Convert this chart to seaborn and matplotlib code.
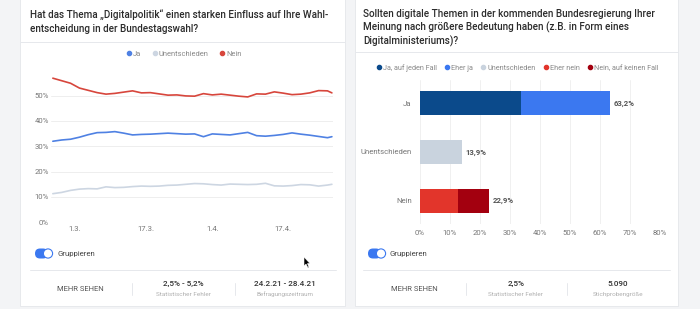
import matplotlib.pyplot as plt
import matplotlib.patches as mpatches
from matplotlib.lines import Line2D
import pandas as pd
import seaborn as sns

# left panel: share over time (in %)
dates = [
    "2021-02-24", "2021-02-26", "2021-02-28", "2021-03-02", "2021-03-04", "2021-03-06",
    "2021-03-08", "2021-03-10", "2021-03-12", "2021-03-14", "2021-03-16", "2021-03-18",
    "2021-03-20", "2021-03-22", "2021-03-24", "2021-03-26", "2021-03-28", "2021-03-30",
    "2021-04-01", "2021-04-03", "2021-04-05", "2021-04-07", "2021-04-09", "2021-04-11",
    "2021-04-13", "2021-04-15", "2021-04-17", "2021-04-19", "2021-04-21", "2021-04-23",
    "2021-04-25", "2021-04-27", "2021-04-28",
]
ja = [32.0, 32.5, 32.8, 33.6, 34.6, 35.4, 35.5, 35.8, 35.2, 34.5, 34.7, 34.8, 35.0,
      35.2, 35.0, 34.8, 34.9, 33.8, 34.9, 34.7, 34.5, 35.0, 35.5, 34.2, 34.0, 34.3,
      34.7, 35.3, 34.8, 34.4, 33.9, 33.4, 33.8]
unentschieden = [11.3, 11.8, 12.6, 13.1, 13.3, 13.2, 14.0, 13.7, 13.8, 14.1, 14.3, 14.2,
                 14.3, 14.6, 14.7, 15.0, 15.3, 15.2, 14.9, 14.7, 15.1, 15.0, 14.9, 15.0,
                 15.4, 14.4, 14.3, 14.5, 14.9, 14.8, 14.3, 14.7, 15.0]
nein = [56.9, 55.9, 54.9, 53.0, 52.1, 51.2, 50.6, 50.9, 51.4, 51.9, 51.1, 51.2, 50.7,
        50.2, 50.3, 49.9, 49.8, 50.8, 50.3, 50.6, 50.2, 49.8, 49.5, 50.7, 50.6, 51.5,
        51.0, 50.4, 50.6, 51.1, 52.0, 51.9, 51.1]
line_series = ["Ja", "Unentschieden", "Nein"]
line_colors = ["#4f81e3", "#cdd6e2", "#d7463c"]
date_ticks = ["2021-03-01", "2021-03-17", "2021-04-01", "2021-04-17"]
date_tick_labels = ["1.3.", "17.3.", "1.4.", "17.4."]

# right panel: stacked bars (in %)
bar_cats = ["Ja", "Unentschieden", "Nein"]
bar_segments = ["Ja, auf jeden Fall", "Eher ja", "Unentschieden", "Eher nein", "Nein, auf keinen Fall"]
seg_cat = ["Ja", "Ja", "Unentschieden", "Nein", "Nein"]
seg_values = [33.6, 29.6, 13.9, 12.8, 10.1]
seg_colors = ["#0b4a8b", "#3b78f0", "#c9d3de", "#e2352b", "#a3000f"]
bar_totals = ["63,2%", "13,9%", "22,9%"]
x_ticks = [0, 10, 20, 30, 40, 50, 60, 70, 80]

W, H = 700, 309
sns.set_theme(style="white")
plt.rcParams["font.family"] = ["Roboto", "DejaVu Sans"]

fig = plt.figure(figsize=(W / 100, H / 100), dpi=100, facecolor="#f3f4f6")

# background canvas in pixel coordinates for the cards
bg = fig.add_axes([0, 0, 1, 1], zorder=0)
bg.set_xlim(0, W)
bg.set_ylim(H, 0)
bg.axis("off")
for x0, x1 in [(20, 345), (355, 678)]:
    bg.add_patch(mpatches.Rectangle((x0, -2), x1 - x0, 308, facecolor="white",
                                    edgecolor="#e4e6ea", linewidth=0.6))
bg.plot([20, 345], [42, 42], color="#e6e8ec", lw=0.7)
bg.plot([355, 678], [52, 52], color="#e6e8ec", lw=0.7)
bg.plot([30, 336], [270, 270], color="#e6e8ec", lw=0.7)
bg.plot([363, 670], [270, 270], color="#e6e8ec", lw=0.7)

title_kw = dict(fontsize=7.15, fontweight="medium", color="#2b2b2b", va="center", ha="left")
bg.text(30, 15, "Hat das Thema „Digitalpolitik“ einen starken Einfluss auf Ihre Wahl-", **title_kw)
bg.text(30, 28.5, "entscheidung in der Bundestagswahl?", **title_kw)
bg.text(363, 14, "Sollten digitale Themen in der kommenden Bundesregierung Ihrer", **title_kw)
bg.text(363, 27.5, "Meinung nach größere Bedeutung haben (z.B. in Form eines", **title_kw)
bg.text(363, 41, "Digitalministeriums)?", **title_kw)

# toggles
for tx in [30, 363]:
    bg.add_patch(mpatches.FancyBboxPatch((tx + 5, 248.5), 13, 10, boxstyle="round,pad=0,rounding_size=5",
                                         facecolor="#3b78f0", edgecolor="none"))
    bg.add_patch(mpatches.Circle((tx + 18, 253.5), 4.6, facecolor="white", edgecolor="#3b78f0", lw=0.8))
    bg.text(tx + 27, 254, "Gruppieren", fontsize=5.6, color="#444444", va="center", ha="left")

# footer stats
def footer(xc, main, sub):
    bg.text(xc, 283.5, main, fontsize=5.9, fontweight="medium", color="#333333", ha="center", va="center")
    bg.text(xc, 294.5, sub, fontsize=4.6, color="#b0b0b0", ha="center", va="center")

for xm in [80.5, 414]:
    bg.text(xm, 289, "MEHR SEHEN", fontsize=5.5, color="#555555", ha="center", va="center")
for xd in [132, 235, 466, 567]:
    bg.plot([xd, xd], [283, 295], color="#e6e8ec", lw=0.7)
footer(183, "2,5% - 5,2%", "Statistischer Fehler")
footer(285, "24.2.21 - 28.4.21", "Befragungszeitraum")
footer(516, "2,5%", "Statistischer Fehler")
footer(618, "5.090", "Stichprobengröße")

# mouse cursor
bg.add_patch(mpatches.Polygon([(304, 257), (304, 266), (306, 264), (308, 268), (309, 267.5),
                               (307.5, 263.5), (310, 263.5)], closed=True, facecolor="black",
                              edgecolor="white", lw=0.4))

# ---- left line chart ----
line_df = pd.DataFrame({"date": pd.to_datetime(dates), "Ja": ja,
                        "Unentschieden": unentschieden, "Nein": nein})
line_df = line_df.melt(id_vars="date", var_name="answer", value_name="share")

ax1 = fig.add_axes([51 / W, 1 - 222.3 / H, 282 / W, 146.9 / H], zorder=2)
ax1.patch.set_alpha(0)
sns.lineplot(data=line_df, x="date", y="share", hue="answer", hue_order=line_series,
             palette=dict(zip(line_series, line_colors)), linewidth=1.2, legend=False, ax=ax1)
ax1.set_xlim(pd.Timestamp("2021-02-24") - pd.Timedelta(hours=10),
             pd.Timestamp("2021-04-28") + pd.Timedelta(hours=6))
ax1.set_ylim(0, 58)
ax1.set_yticks([0, 10, 20, 30, 40, 50])
ax1.set_yticklabels([f"{v}%" for v in [0, 10, 20, 30, 40, 50]])
ax1.set_xticks(pd.to_datetime(date_ticks))
ax1.set_xticklabels(date_tick_labels)
ax1.grid(axis="y", color="#eeeeee", lw=0.7)
ax1.tick_params(axis="both", length=0, labelsize=5.6, labelcolor="#777777")
ax1.tick_params(axis="y", pad=1.5)
ax1.tick_params(axis="x", pad=3)
ax1.set_xlabel("")
ax1.set_ylabel("")
sns.despine(ax=ax1, left=True, bottom=True)

h1 = [Line2D([], [], marker="o", ls="", color=c, markersize=3) for c in line_colors]
fig.legend(h1, line_series, loc="center", bbox_to_anchor=(183.5 / W, 1 - 54 / H), ncol=3,
           frameon=False, fontsize=5.4, labelcolor="#888888", handletextpad=0.05,
           columnspacing=1.3, handlelength=1)

# ---- right stacked bar chart ----
bar_df = pd.DataFrame({"cat": seg_cat, "segment": bar_segments, "value": seg_values,
                       "color": seg_colors})
bar_df["end"] = bar_df.groupby("cat")["value"].cumsum()

ax2 = fig.add_axes([420 / W, 1 - 224 / H, 240 / W, 144 / H], zorder=2)
ax2.patch.set_alpha(0)
# draw the outer segments first, the inner ones on top
for _, row in bar_df.sort_values("end", ascending=False).iterrows():
    sns.barplot(data=bar_df[bar_df["segment"] == row["segment"]], x="end", y="cat",
                order=bar_cats, color=row["color"], saturation=1, width=0.49,
                linewidth=0, errorbar=None, ax=ax2)
totals = bar_df.groupby("cat")["end"].max().reindex(bar_cats)
for i, (tot, lab) in enumerate(zip(totals, bar_totals)):
    ax2.text(tot + 1.4, i, lab, fontsize=5.6, fontweight="bold", color="#555555", va="center")
ax2.set_xlim(0, 80)
ax2.set_ylim(2.47, -0.47)
ax2.set_xticks(x_ticks)
ax2.set_xticklabels([f"{v}%" for v in x_ticks])
ax2.grid(axis="x", color="#f0f0f0", lw=0.7)
ax2.set_axisbelow(True)
ax2.tick_params(axis="both", length=0, labelsize=5.6, labelcolor="#777777")
ax2.tick_params(axis="y", pad=6)
ax2.tick_params(axis="x", pad=4)
ax2.set_xlabel("")
ax2.set_ylabel("")
sns.despine(ax=ax2, left=True, bottom=True)

h2 = [Line2D([], [], marker="o", ls="", color=c, markersize=3) for c in seg_colors]
fig.legend(h2, bar_segments, loc="center", bbox_to_anchor=(517 / W, 1 - 68 / H), ncol=5,
           frameon=False, fontsize=5.2, labelcolor="#888888", handletextpad=0.05,
           columnspacing=0.95, handlelength=1)

fig.savefig("out.png", dpi=100, facecolor=fig.get_facecolor())
